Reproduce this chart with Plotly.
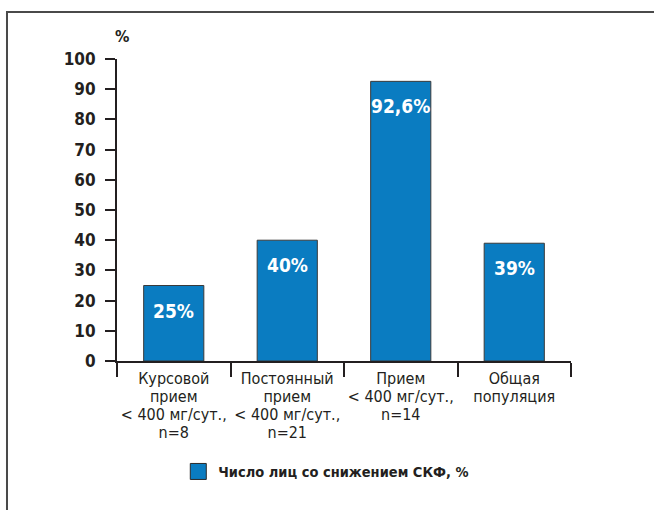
import plotly.graph_objects as go

categories = ["Курсовой<br>прием<br>< 400 мг/сут.,<br>n=8",
              "Постоянный<br>прием<br>< 400 мг/сут.,<br>n=21",
              "Прием<br>< 400 мг/сут.,<br>n=14",
              "Общая<br>популяция"]
cat_keys = ["c1", "c2", "c3", "c4"]
values = [25, 40, 92.6, 39]
series_name = "Число лиц со снижением СКФ, %"
y_ticks = list(range(0, 101, 10))

BAR = "#0a7cc1"
DARK = "#231f20"
FONT = "DejaVu Sans Condensed, DejaVu Sans, sans-serif"

def fmt(v):
    s = f"{v:g}".replace(".", ",")
    return s + "%"

def cond(t, size=None, bold=False):
    st = "font-stretch:condensed"
    if size:
        st += f";font-size:{size}px"
    if bold:
        st += ";font-weight:bold"
    return f'<span style="{st}">{t}</span>'

def big_lines(lbl):
    return "<br>".join(cond(p, 16) for p in lbl.split("<br>"))

fig = go.Figure()
fig.add_trace(go.Bar(
    x=cat_keys, y=values, width=0.53,
    marker=dict(color=BAR, line=dict(color="#3a3a3a", width=1)),
    showlegend=False, hoverinfo="skip",
))
fig.add_trace(go.Scatter(
    x=[None], y=[None], mode="markers", name=cond(series_name, bold=True),
    marker=dict(symbol="square", size=16, color=BAR, line=dict(color="#2a2a2a", width=1)),
    showlegend=True,
))

for k, v in zip(cat_keys, values):
    fig.add_annotation(x=k, y=v, text=cond(fmt(v), bold=True), showarrow=False,
                       yshift=-25, yanchor="middle",
                       font=dict(family=FONT, size=19, color="white"))

fig.add_annotation(xref="paper", yref="paper", x=0.011, y=1.073, text=cond("%", bold=True),
                   xanchor="center", yanchor="middle",
                   showarrow=False, font=dict(family=FONT, size=16, color=DARK))

fig.add_shape(type="rect", xref="paper", yref="paper", x0=-0.2423, x1=1.25,
              y0=-0.65, y1=1.1556, line=dict(color="#4a4a4a", width=2), layer="below")

fig.update_layout(
    width=654, height=510,
    margin=dict(l=117, r=83, t=59, b=149),
    paper_bgcolor="white", plot_bgcolor="white",
    font=dict(family=FONT, color=DARK),
    legend=dict(orientation="h", x=0.135, y=-0.366, xanchor="left", yanchor="middle",
                font=dict(family=FONT, size=14.5, color=DARK), itemsizing="trace"),
)
fig.update_xaxes(
    type="category", tickvals=cat_keys, ticktext=[big_lines(c) for c in categories],
    tickangle=0,
    showline=True, linewidth=2, linecolor=DARK,
    ticks="outside", tickson="boundaries", ticklen=14, tickwidth=1.5, tickcolor=DARK,
    tickfont=dict(family=FONT, size=14, color=DARK), ticklabelstandoff=4,
    showgrid=False, zeroline=False, range=[-0.5, 3.5],
)
fig.update_yaxes(
    range=[0, 100], tickvals=y_ticks, ticktext=[cond(t, bold=True) for t in y_ticks],
    showline=True, linewidth=2, linecolor=DARK,
    ticks="outside", ticklen=10, tickwidth=1.5, tickcolor=DARK,
    tickfont=dict(family=FONT, size=17, color=DARK), ticklabelstandoff=6,
    showgrid=False, zeroline=False,
)

fig.write_html("out.html")
